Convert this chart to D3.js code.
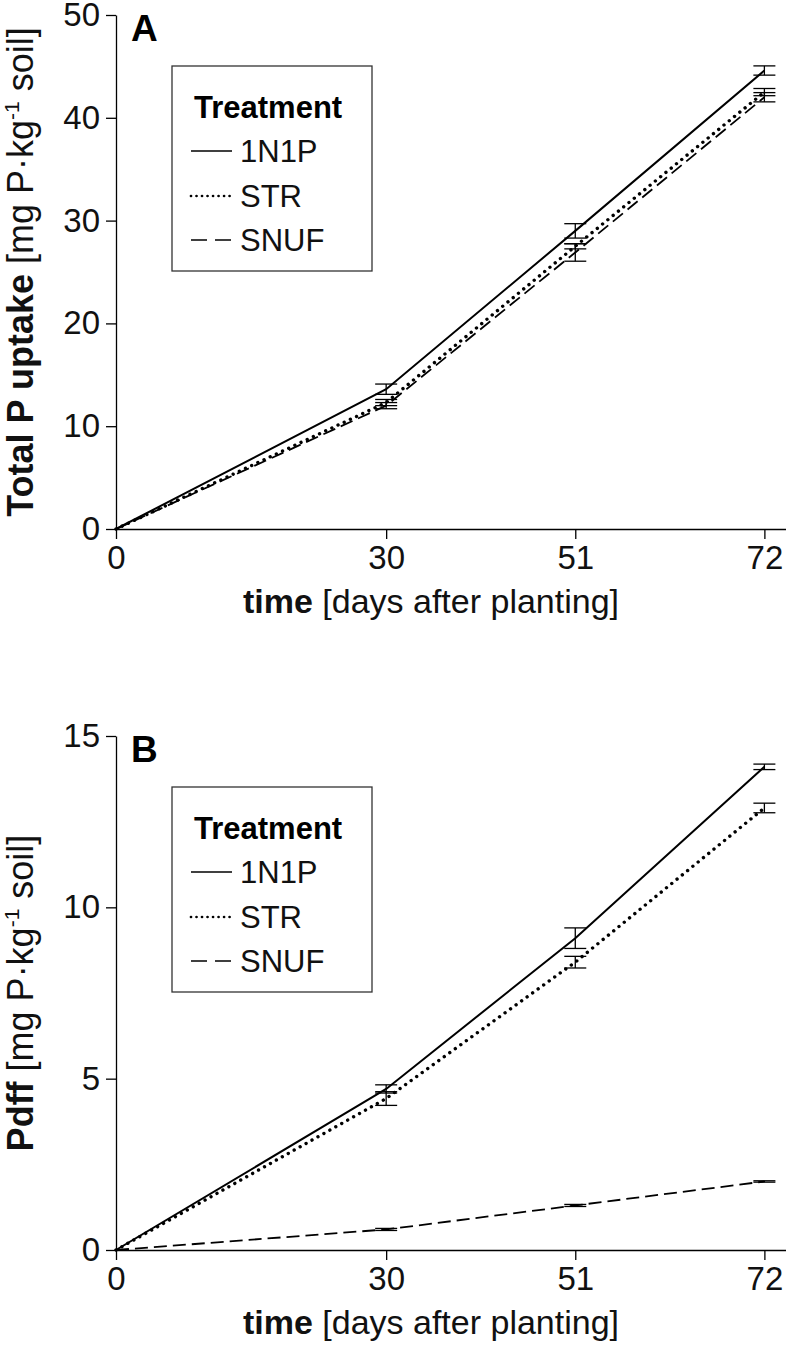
<!DOCTYPE html>
<html>
<head>
<meta charset="utf-8">
<script src="https://cdn.jsdelivr.net/npm/d3@7/dist/d3.min.js"></script>
<style>
  html, body { margin: 0; padding: 0; background: #fff; }
  svg { display: block; font-family: "Liberation Sans", Arial, Helvetica, sans-serif; }
</style>
</head>
<body>
<svg id="chart" width="786" height="1356"></svg>
<script>
// ---------------- data ----------------
const days = [0, 30, 51, 72];
const treatments = ["1N1P", "STR", "SNUF"];
const xTicks = [0, 30, 51, 72];

// Panel A: Total P uptake [mg P kg-1 soil]
const uptake1N1P = [0, 13.6, 29.0, 44.6];
const uptake1N1PErr = [0, 0.5, 0.7, 0.45];
const uptakeSTR = [0, 12.3, 27.5, 42.5];
const uptakeSTRErr = [0, 0.3, 0.25, 0.35];
const uptakeSNUF = [0, 12.0, 26.9, 42.0];
const uptakeSNUFErr = [0, 0.3, 0.85, 0.45];
const uptakeTicks = [0, 10, 20, 30, 40, 50];

// Panel B: Pdff [mg P kg-1 soil]
const pdff1N1P = [0, 4.7, 9.1, 14.1];
const pdff1N1PErr = [0, 0.12, 0.3, 0.08];
const pdffSTR = [0, 4.42, 8.4, 12.9];
const pdffSTRErr = [0, 0.2, 0.17, 0.14];
const pdffSNUF = [0, 0.6, 1.3, 2.0];
const pdffSNUFErr = [0, 0.03, 0.03, 0.02];
const pdffTicks = [0, 5, 10, 15];

// ---------------- layout ----------------
const svg = d3.select("#chart");
const X0 = 116, XEND = 786, XMAXDAY = 74.4;
const x = d3.scaleLinear().domain([0, XMAXDAY]).range([X0, XEND]);

const styles = {
  "1N1P": { dash: null, width: 2, cap: "butt" },
  "STR": { dash: "0.01 6.8", width: 3.4, cap: "round" },
  "SNUF": { dash: "13 6", width: 1.8, cap: "butt" }
};

const panels = [
  {
    letter: "A", yMax: 50, ticks: uptakeTicks, top: 15, bottom: 529,
    bold: "Total P uptake",
    series: [
      { name: "1N1P", v: uptake1N1P, e: uptake1N1PErr },
      { name: "STR", v: uptakeSTR, e: uptakeSTRErr },
      { name: "SNUF", v: uptakeSNUF, e: uptakeSNUFErr }
    ]
  },
  {
    letter: "B", yMax: 15, ticks: pdffTicks, top: 736, bottom: 1250,
    bold: "Pdff",
    series: [
      { name: "1N1P", v: pdff1N1P, e: pdff1N1PErr },
      { name: "STR", v: pdffSTR, e: pdffSTRErr },
      { name: "SNUF", v: pdffSNUF, e: pdffSNUFErr }
    ]
  }
];

panels.forEach(p => {
  const off = p.bottom - 529;
  const y = d3.scaleLinear().domain([0, p.yMax]).range([p.bottom, p.top]);
  const g = svg.append("g");

  // y axis
  const yAxis = d3.axisLeft(y).tickValues(p.ticks).tickSize(10).tickSizeOuter(0).tickPadding(6);
  const ya = g.append("g").attr("transform", `translate(${X0},0)`).call(yAxis);
  ya.selectAll("text").attr("font-size", 33).attr("fill", "#111").attr("font-family", "Liberation Sans, Arial, sans-serif");
  ya.selectAll("line, path").attr("stroke", "#000").attr("stroke-width", 1.3);

  // x axis
  const xAxis = d3.axisBottom(x).tickValues(xTicks).tickSize(10).tickSizeOuter(0).tickPadding(7);
  const xa = g.append("g").attr("transform", `translate(0,${p.bottom})`).call(xAxis);
  xa.selectAll("text").attr("font-size", 33).attr("fill", "#111").attr("font-family", "Liberation Sans, Arial, sans-serif");
  xa.selectAll("line, path").attr("stroke", "#000").attr("stroke-width", 1.3);

  // x title
  const xt = g.append("text").attr("x", 431).attr("y", 613 + off)
    .attr("text-anchor", "middle").attr("font-size", 34).attr("fill", "#111");
  xt.append("tspan").attr("font-weight", "bold").text("time");
  xt.append("tspan").text(" [days after planting]");

  // y title
  const yt = g.append("text")
    .attr("transform", `translate(33,${(p.top + p.bottom) / 2}) rotate(-90)`)
    .attr("text-anchor", "middle").attr("font-size", 36).attr("fill", "#111");
  yt.append("tspan").attr("font-weight", "bold").text(p.bold);
  yt.append("tspan").text(" [mg P\u00B7kg");
  yt.append("tspan").attr("font-size", 21).attr("dy", -14).text("-1");
  yt.append("tspan").attr("dy", 14).text(" soil]");

  // panel letter
  g.append("text").attr("x", 131).attr("y", 41 + off)
    .attr("font-size", 37).attr("font-weight", "bold").text(p.letter);

  // lines
  const line = d3.line().x((d, i) => x(days[i])).y(d => y(d));
  p.series.forEach(s => {
    const st = styles[s.name];
    g.append("path").datum(s.v).attr("d", line)
      .attr("fill", "none").attr("stroke", "#000")
      .attr("stroke-width", st.width)
      .attr("stroke-dasharray", st.dash)
      .attr("stroke-linecap", st.cap);
  });

  // error bars
  p.series.forEach(s => {
    days.forEach((d, i) => {
      if (i === 0) return;
      const cx = x(d), hi = y(s.v[i] + s.e[i]), lo = y(s.v[i] - s.e[i]);
      g.append("line").attr("x1", cx).attr("x2", cx).attr("y1", hi).attr("y2", lo)
        .attr("stroke", "#000").attr("stroke-width", 1.3);
      [hi, lo].forEach(yy => g.append("line").attr("x1", cx - 11).attr("x2", cx + 11)
        .attr("y1", yy).attr("y2", yy).attr("stroke", "#000").attr("stroke-width", 1.3));
    });
  });

  // legend
  const lg = g.append("g").attr("transform", `translate(0,${off})`);
  lg.append("rect").attr("x", 172).attr("y", 66).attr("width", 200).attr("height", 205)
    .attr("fill", "#fff").attr("stroke", "#333").attr("stroke-width", 1.3);
  lg.append("text").attr("x", 194).attr("y", 118).attr("font-size", 31)
    .attr("font-weight", "bold").text("Treatment");
  const entryY = [162, 207, 251];
  treatments.forEach((t, i) => {
    const st = styles[t];
    lg.append("line").attr("x1", 191).attr("x2", 232)
      .attr("y1", entryY[i] - 11).attr("y2", entryY[i] - 11)
      .attr("stroke", "#000").attr("stroke-width", st.width * 0.8)
      .attr("stroke-dasharray", t === "STR" ? "0.01 5.5" : (t === "SNUF" ? "16 8" : null))
      .attr("stroke-linecap", st.cap);
    lg.append("text").attr("x", 240).attr("y", entryY[i]).attr("font-size", 31)
      .attr("fill", "#111").text(t);
  });
});
</script>
</body>
</html>
